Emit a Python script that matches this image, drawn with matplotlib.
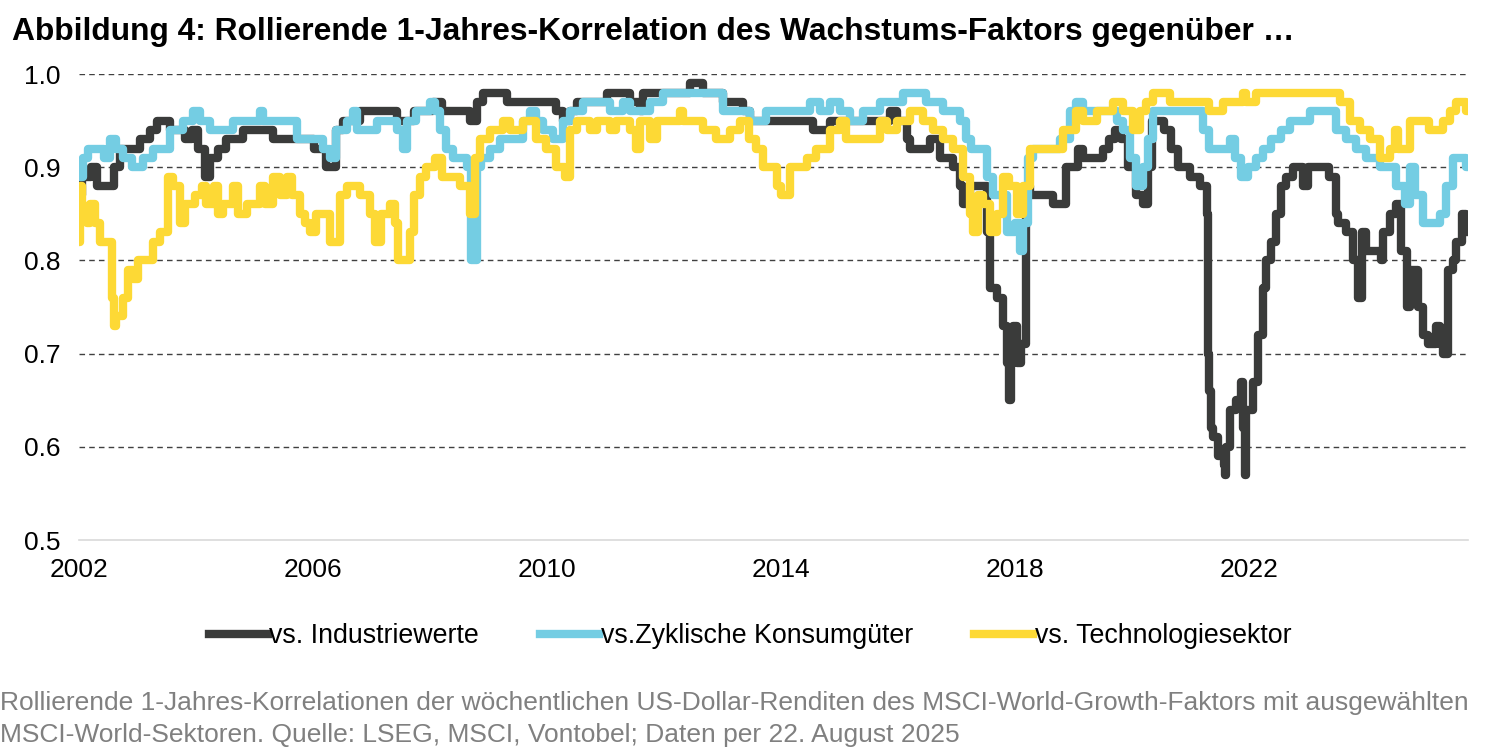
import matplotlib
matplotlib.use("Agg")
import matplotlib.pyplot as plt

plt.rcParams['font.family'] = ['Liberation Sans', 'DejaVu Sans']

# rolling 1y correlation (decimal year, value)
ind_years = [2002.00, 2002.05, 2002.20, 2002.30, 2002.59, 2002.70, 2003.04, 2003.21, 2003.33, 2003.56,
             2003.81, 2003.93, 2004.04, 2004.15, 2004.24, 2004.38, 2004.52, 2004.81, 2005.32, 2006.01,
             2006.23, 2006.40, 2006.52, 2006.80, 2007.43, 2007.72, 2008.06, 2008.20, 2008.68, 2008.80,
             2008.91, 2009.31, 2010.16, 2010.28, 2010.39, 2010.51, 2011.02, 2011.42, 2011.59, 2011.65,
             2012.44, 2012.67, 2013.01, 2013.36, 2013.47, 2014.55, 2014.84, 2015.86, 2015.98, 2016.15,
             2016.21, 2016.55, 2016.72, 2016.95, 2017.06, 2017.12, 2017.23, 2017.52, 2017.57, 2017.69,
             2017.80, 2017.86, 2017.90, 2017.94, 2017.97, 2018.03, 2018.11, 2018.20, 2018.26, 2018.65,
             2018.88, 2019.08, 2019.17, 2019.51, 2019.62, 2019.71, 2019.82, 2019.94, 2020.08, 2020.19,
             2020.28, 2020.34, 2020.56, 2020.68, 2020.79, 2020.99, 2021.16, 2021.28, 2021.31, 2021.33,
             2021.36, 2021.39, 2021.48, 2021.57, 2021.60, 2021.62, 2021.68, 2021.79, 2021.87, 2021.90,
             2021.93, 2021.96, 2022.07, 2022.16, 2022.25, 2022.30, 2022.39, 2022.47, 2022.56, 2022.64,
             2022.76, 2022.93, 2023.01, 2023.38, 2023.50, 2023.53, 2023.67, 2023.78, 2023.87, 2023.93,
             2024.01, 2024.27, 2024.30, 2024.41, 2024.52, 2024.61, 2024.70, 2024.75, 2024.89, 2024.98,
             2025.07, 2025.21, 2025.27, 2025.32, 2025.41, 2025.49, 2025.55, 2025.64, 2025.72, 2025.75]
ind_vals = [0.87, 0.89, 0.90, 0.88, 0.90, 0.92, 0.93, 0.94, 0.95, 0.94,
            0.93, 0.94, 0.92, 0.89, 0.91, 0.92, 0.93, 0.94, 0.93, 0.92,
            0.90, 0.94, 0.95, 0.96, 0.95, 0.96, 0.97, 0.96, 0.95, 0.97,
            0.98, 0.97, 0.96, 0.95, 0.96, 0.97, 0.98, 0.97, 0.96, 0.98,
            0.99, 0.98, 0.97, 0.96, 0.95, 0.94, 0.95, 0.96, 0.95, 0.93,
            0.92, 0.93, 0.91, 0.90, 0.88, 0.86, 0.88, 0.83, 0.77, 0.76,
            0.73, 0.69, 0.65, 0.69, 0.73, 0.69, 0.71, 0.88, 0.87, 0.86,
            0.90, 0.92, 0.91, 0.92, 0.93, 0.94, 0.93, 0.90, 0.87, 0.86,
            0.90, 0.95, 0.94, 0.92, 0.90, 0.89, 0.88, 0.85, 0.70, 0.66,
            0.62, 0.61, 0.59, 0.58, 0.57, 0.60, 0.64, 0.65, 0.67, 0.62,
            0.57, 0.64, 0.67, 0.72, 0.77, 0.80, 0.82, 0.85, 0.88, 0.89,
            0.90, 0.88, 0.90, 0.89, 0.85, 0.84, 0.83, 0.80, 0.76, 0.83,
            0.81, 0.80, 0.83, 0.85, 0.86, 0.81, 0.75, 0.79, 0.75, 0.72,
            0.71, 0.73, 0.71, 0.70, 0.79, 0.80, 0.82, 0.85, 0.83, 0.83]

cyc_years = [2002.00, 2002.07, 2002.16, 2002.42, 2002.53, 2002.64, 2002.76, 2002.90, 2003.10, 2003.27,
             2003.56, 2003.78, 2003.95, 2004.07, 2004.24, 2004.64, 2005.09, 2005.15, 2005.72, 2006.18,
             2006.29, 2006.40, 2006.58, 2006.69, 2006.75, 2007.09, 2007.43, 2007.54, 2007.60, 2007.77,
             2008.00, 2008.09, 2008.17, 2008.28, 2008.40, 2008.63, 2008.71, 2008.80, 2008.88, 2009.03,
             2009.20, 2009.60, 2009.71, 2009.82, 2009.94, 2010.11, 2010.28, 2010.39, 2010.62, 2011.08,
             2011.30, 2011.42, 2011.76, 2011.99, 2013.01, 2013.47, 2013.75, 2014.50, 2014.67, 2014.84,
             2015.01, 2015.18, 2015.41, 2015.69, 2016.09, 2016.49, 2016.77, 2017.06, 2017.17, 2017.26,
             2017.52, 2017.63, 2017.86, 2018.00, 2018.09, 2018.14, 2018.23, 2018.31, 2018.77, 2018.94,
             2019.05, 2019.17, 2019.74, 2019.85, 2019.97, 2020.08, 2020.19, 2020.28, 2020.36, 2021.22,
             2021.33, 2021.68, 2021.76, 2021.87, 2021.99, 2022.13, 2022.25, 2022.39, 2022.56, 2022.70,
             2023.04, 2023.50, 2023.67, 2023.84, 2024.01, 2024.24, 2024.52, 2024.67, 2024.75, 2024.84,
             2024.98, 2025.27, 2025.38, 2025.49, 2025.72, 2025.75]
cyc_vals = [0.89, 0.91, 0.92, 0.91, 0.93, 0.92, 0.91, 0.90, 0.91, 0.92,
            0.94, 0.95, 0.96, 0.95, 0.94, 0.95, 0.96, 0.95, 0.93, 0.92,
            0.91, 0.94, 0.95, 0.96, 0.94, 0.95, 0.94, 0.92, 0.95, 0.96,
            0.97, 0.96, 0.94, 0.92, 0.91, 0.90, 0.80, 0.90, 0.91, 0.92,
            0.93, 0.95, 0.96, 0.95, 0.94, 0.93, 0.95, 0.96, 0.97, 0.96,
            0.97, 0.96, 0.97, 0.98, 0.96, 0.95, 0.96, 0.97, 0.96, 0.97,
            0.96, 0.95, 0.96, 0.97, 0.98, 0.97, 0.96, 0.95, 0.93, 0.92,
            0.89, 0.87, 0.83, 0.84, 0.81, 0.84, 0.91, 0.92, 0.93, 0.96,
            0.97, 0.96, 0.95, 0.94, 0.91, 0.88, 0.90, 0.93, 0.96, 0.94,
            0.92, 0.93, 0.91, 0.89, 0.90, 0.91, 0.92, 0.93, 0.94, 0.95,
            0.96, 0.94, 0.93, 0.92, 0.91, 0.90, 0.88, 0.86, 0.90, 0.87,
            0.84, 0.85, 0.88, 0.91, 0.90, 0.90]

tech_years = [2002.00, 2002.01, 2002.05, 2002.13, 2002.19, 2002.27, 2002.36, 2002.56, 2002.60, 2002.64,
              2002.76, 2002.84, 2002.93, 2003.01, 2003.27, 2003.38, 2003.53, 2003.61, 2003.73, 2003.81,
              2003.98, 2004.10, 2004.18, 2004.30, 2004.38, 2004.47, 2004.64, 2004.72, 2004.87, 2005.09,
              2005.18, 2005.32, 2005.44, 2005.55, 2005.64, 2005.78, 2005.86, 2005.95, 2006.06, 2006.29,
              2006.46, 2006.58, 2006.80, 2006.97, 2007.06, 2007.17, 2007.32, 2007.40, 2007.46, 2007.66,
              2007.72, 2007.83, 2007.94, 2008.09, 2008.20, 2008.51, 2008.68, 2008.77, 2008.85, 2009.03,
              2009.25, 2009.37, 2009.60, 2009.82, 2009.99, 2010.16, 2010.31, 2010.39, 2010.51, 2010.73,
              2010.85, 2011.08, 2011.19, 2011.42, 2011.53, 2011.59, 2011.76, 2011.88, 2012.27, 2012.33,
              2012.67, 2012.90, 2013.13, 2013.30, 2013.45, 2013.58, 2013.70, 2013.93, 2014.01, 2014.15,
              2014.44, 2014.61, 2014.84, 2015.01, 2015.12, 2015.69, 2015.81, 2015.98, 2016.21, 2016.43,
              2016.60, 2016.77, 2016.95, 2017.12, 2017.23, 2017.29, 2017.37, 2017.46, 2017.57, 2017.69,
              2017.80, 2017.91, 2018.03, 2018.14, 2018.26, 2018.83, 2019.05, 2019.17, 2019.40, 2019.68,
              2019.85, 2020.02, 2020.14, 2020.25, 2020.36, 2020.65, 2021.33, 2021.56, 2021.90, 2021.96,
              2022.13, 2023.56, 2023.73, 2023.90, 2024.07, 2024.24, 2024.41, 2024.50, 2024.55, 2024.75,
              2025.09, 2025.32, 2025.44, 2025.55, 2025.72, 2025.75]
tech_vals = [0.82, 0.88, 0.85, 0.84, 0.86, 0.84, 0.82, 0.76, 0.73, 0.74,
             0.76, 0.79, 0.78, 0.80, 0.82, 0.83, 0.89, 0.88, 0.84, 0.86,
             0.87, 0.88, 0.86, 0.88, 0.85, 0.86, 0.88, 0.85, 0.86, 0.88,
             0.86, 0.89, 0.87, 0.89, 0.87, 0.85, 0.84, 0.83, 0.85, 0.82,
             0.87, 0.88, 0.87, 0.85, 0.82, 0.85, 0.86, 0.84, 0.80, 0.83,
             0.87, 0.89, 0.90, 0.91, 0.89, 0.88, 0.85, 0.91, 0.93, 0.94,
             0.95, 0.94, 0.95, 0.93, 0.92, 0.90, 0.89, 0.94, 0.95, 0.94,
             0.95, 0.94, 0.95, 0.94, 0.92, 0.95, 0.93, 0.95, 0.96, 0.95,
             0.94, 0.93, 0.94, 0.95, 0.93, 0.92, 0.90, 0.88, 0.87, 0.90,
             0.91, 0.92, 0.94, 0.95, 0.93, 0.95, 0.94, 0.95, 0.96, 0.95,
             0.94, 0.93, 0.92, 0.89, 0.85, 0.83, 0.87, 0.86, 0.83, 0.85,
             0.89, 0.88, 0.85, 0.88, 0.92, 0.94, 0.96, 0.95, 0.96, 0.97,
             0.96, 0.94, 0.96, 0.97, 0.98, 0.97, 0.96, 0.97, 0.98, 0.97,
             0.98, 0.97, 0.95, 0.94, 0.93, 0.91, 0.92, 0.94, 0.92, 0.95,
             0.94, 0.95, 0.96, 0.97, 0.96, 0.96]

series_labels = ["vs. Industriewerte", "vs.Zyklische Konsumgüter", "vs. Technologiesektor"]
year_ticks = [2002, 2006, 2010, 2014, 2018, 2022]
value_ticks = [0.5, 0.6, 0.7, 0.8, 0.9, 1.0]

title = "Abbildung 4: Rollierende 1-Jahres-Korrelation des Wachstums-Faktors gegenüber …"
note1 = ("Rollierende 1-Jahres-Korrelationen der wöchentlichen US-Dollar-Renditen des "
         "MSCI-World-Growth-Faktors mit ausgewählten")
note2 = "MSCI-World-Sektoren. Quelle: LSEG, MSCI, Vontobel; Daten per 22. August 2025"

colors = ["#3a3b3a", "#74cde3", "#fdd935"]


def run():
    fig = plt.figure(figsize=(15, 7.5), dpi=100)
    ax = fig.add_axes([79 / 1500, 1 - 540 / 750, (1468 - 79) / 1500, (540 - 74) / 750])

    for yrs, vals, lab, col in zip([ind_years, cyc_years, tech_years],
                                   [ind_vals, cyc_vals, tech_vals],
                                   series_labels, colors):
        ax.plot(yrs, vals, drawstyle="steps-post", color=col, lw=6,
                solid_joinstyle="round", label=lab)

    ax.set_xlim(2002, 2025.75)
    ax.set_ylim(0.5, 1.0)
    ax.set_xticks(year_ticks)
    ax.set_xticklabels([str(y) for y in year_ticks])
    ax.set_yticks(value_ticks)
    ax.set_yticklabels(["%.1f" % v for v in value_ticks])
    ax.tick_params(length=0, labelsize=19, colors="black")
    ax.tick_params(axis="x", pad=13)
    ax.tick_params(axis="y", pad=13)

    ax.set_axisbelow(True)
    ax.yaxis.grid(True, linestyle=(0, (4, 3)), color="#404040", lw=1)
    ax.get_ygridlines()[0].set_visible(False)
    for s in ["top", "right", "left"]:
        ax.spines[s].set_visible(False)
    ax.spines["bottom"].set_color("#d9d9d9")
    ax.spines["bottom"].set_linewidth(1.2)

    fig.legend(loc="center", bbox_to_anchor=(0.5, 1 - 636 / 750), ncol=3, frameon=False,
               fontsize=19.3, handlelength=2.2, handletextpad=0.05, columnspacing=2.3)

    fig.text(12 / 1500, 1 - 32 / 750, title, fontsize=22.9, fontweight="bold", va="center")
    fig.text(0, 1 - 703 / 750, note1, fontsize=19, color="#808080", va="center")
    fig.text(0, 1 - 735 / 750, note2, fontsize=19, color="#808080", va="center")

    fig.savefig("out.png", dpi=100)


if __name__ == '__main__':
    run()
